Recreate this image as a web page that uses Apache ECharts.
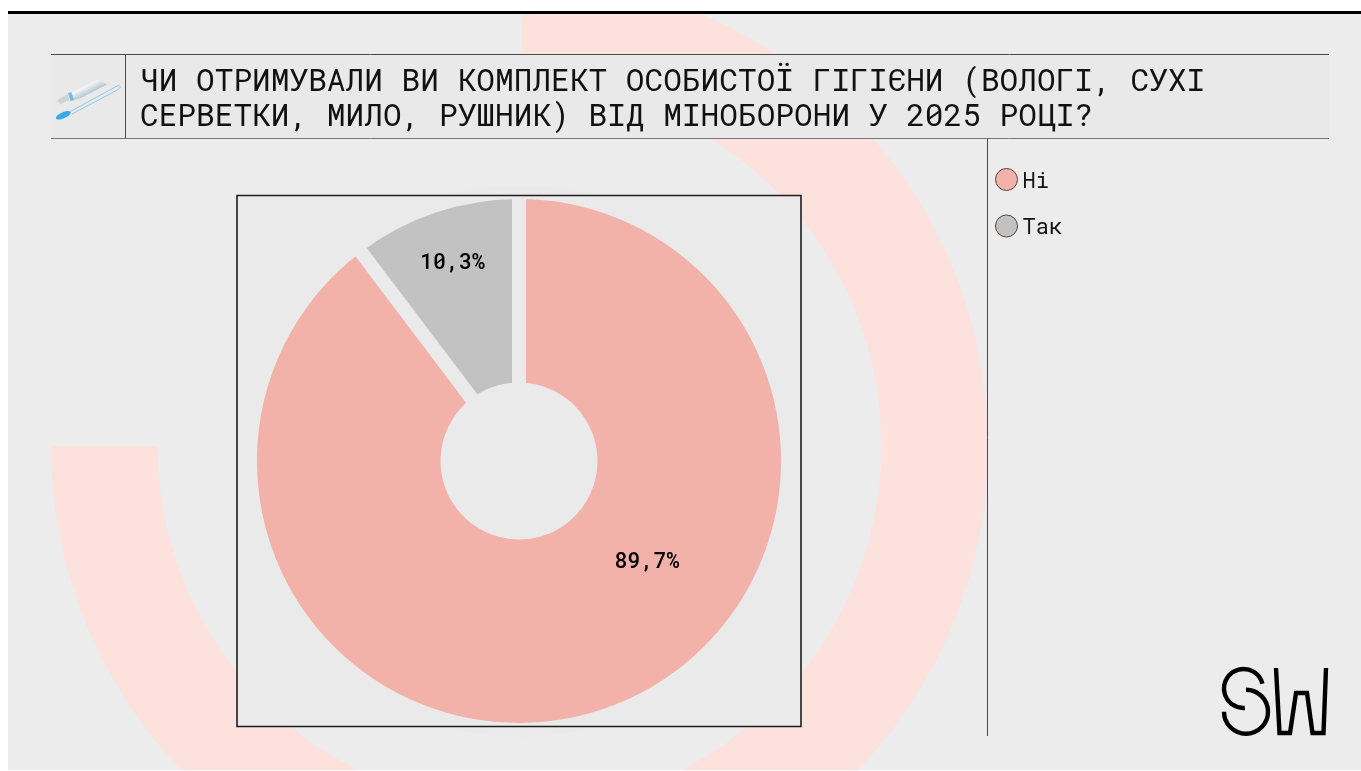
<!DOCTYPE html>
<html><head><meta charset="utf-8"><title>Chart</title>
<style>html,body{margin:0;padding:0;background:#fff;overflow:hidden}#c{width:1361px;height:771px}</style>
<script src="https://cdn.jsdelivr.net/npm/echarts@6/dist/echarts.min.js"></script></head>
<body><div id="c"></div>
<script>
const categories = ['Ні', 'Так'];
const values = [89.7, 10.3];
const sliceColors = ['#f2b1a9', '#c2c2c2'];
const titleLines = ['ЧИ ОТРИМУВАЛИ ВИ КОМПЛЕКТ ОСОБИСТОЇ ГІГІЄНИ (ВОЛОГІ, СУХІ', 'СЕРВЕТКИ, МИЛО, РУШНИК) ВІД МІНОБОРОНИ У 2025 РОЦІ?'];
const MONO = '"Roboto Mono","DejaVu Sans Mono",monospace';
const LINE = '#4a4a4a';
const labelSpots = [[647, 561.5], [452.5, 262.5]];

const chart = echarts.init(document.getElementById('c'));
const line = (x1, y1, x2, y2, color, w, z) => ({type:'line', silent:true, z:z||1, shape:{x1,y1,x2,y2}, style:{stroke:color||LINE, lineWidth:w||1}});
const rect = (x, y, width, height, fill, z) => ({type:'rect', silent:true, z:z||0, shape:{x,y,width,height}, style:{fill}});
const poly = (points, fill, z) => ({type:'polygon', silent:true, z:z||1, shape:{points}, style:{fill}});
const ipt = a => a.map(p => [50 + p[0]/3, 70 + p[1]/3]);

chart.setOption({
  animation:false,
  backgroundColor:'#ffffff',
  title:{
    text:titleLines.join('\n'), left:140, top:64, padding:0, z:6,
    textStyle:{fontFamily:MONO, fontSize:31.15, fontWeight:400, color:'#111', lineHeight:35}
  },
  legend:{
    orient:'vertical', left:990, top:163, itemWidth:22, itemHeight:22, itemGap:22, icon:'circle',
    selectedMode:false, data:categories,
    itemStyle:{borderColor:'#554444', borderWidth:1},
    formatter:name=>'{a|'+name+'}',
    textStyle:{fontFamily:MONO, fontSize:22, color:'#111', rich:{a:{fontFamily:MONO, fontSize:22, color:'#111', padding:[4,0,0,0]}}}
  },
  graphic:{elements:[
    rect(8, 11, 1353, 760, '#ececec', 0),
    {type:'sector', silent:true, z:0, z2:1, shape:{cx:519.5, cy:446, r0:362, r:468.5, startAngle:-Math.PI/2+0.006, endAngle:Math.PI, clockwise:true}, style:{fill:'#fde1dc'}},
    Object.assign(rect(0, 0, 1361, 11, '#ffffff', 0), {z2:2}),
    Object.assign(rect(8, 11, 1353, 3, '#000000', 0), {z2:3}),
    Object.assign(rect(0, 770, 1361, 1, '#ffffff', 0), {z2:2}),
    Object.assign(rect(51, 54.5, 1278, 84, '#e9e9e9', 0), {z2:4}),
    Object.assign(rect(237, 195, 564, 532, '#eaeaea', 0), {z2:4}),
    line(51, 54.5, 1329, 54.5), line(51, 138.5, 1329, 138.5, '#777'),
    line(125.5, 54.5, 125.5, 138.5), line(987.5, 138.5, 987.5, 736),
    {type:'rect', silent:true, z:5, shape:{x:237, y:195.5, width:564, height:531}, style:{fill:'none', stroke:'#1e1e1e', lineWidth:1.6}},
    // toothpaste and toothbrush icon
    {type:'polygon', silent:true, z:1, shape:{points:ipt([[62,70],[142,29],[172,43],[92,84],[68,92]])},
      style:{fill:new echarts.graphic.LinearGradient(0,0,0.3,1,[{offset:0,color:'#dde1e6'},{offset:0.55,color:'#f4f5f7'},{offset:1,color:'#9fb4c4'}])}},
    poly(ipt([[54,70],[64,66],[72,90],[62,94]]), '#6cc0ea'),
    poly(ipt([[22,90],[52,73],[58,90],[30,103]]), '#ccd5da'),
    {type:'polyline', silent:true, z:1, shape:{points:ipt([[62,124],[205,46],[212,50],[206,58],[66,132]])}, style:{fill:'none', stroke:'#8fcbea', lineWidth:1}},
    {type:'ellipse', silent:true, z:1, rotation:0.42, originX:50+40/3, originY:70+136/3, shape:{cx:50+40/3, cy:70+136/3, rx:8, ry:3}, style:{fill:'#39a9e3'}},
    // SW logo
    {type:'arc', silent:true, z:1, shape:{cx:1243.5, cy:688.5, r:19.5, startAngle:-0.25, endAngle:1.5, clockwise:false}, style:{fill:'none', stroke:'#000', lineWidth:4.4}},
    {type:'arc', silent:true, z:1, shape:{cx:1246,cy:711.7, r:22, startAngle:-Math.PI/2, endAngle:Math.PI, clockwise:true}, style:{fill:'none', stroke:'#000', lineWidth:4.4}},
    {type:'polyline', silent:true, z:1, shape:{points:[[1276,668],[1279.5,733],[1290,733],[1296,693],[1307,693],[1312.5,733],[1323.5,733],[1326,668]]}, style:{fill:'none', stroke:'#000', lineWidth:4.4, lineJoin:'miter'}}
  ]},
  series:[{
    type:'pie', center:[519,461], radius:[71.5,269], startAngle:90, clockwise:true, silent:true,
    itemStyle:{borderColor:'#eaeaea', borderWidth:14, borderJoin:'miter'},
    emphasis:{disabled:true},
    data:categories.map((name,i)=>({name, value:values[i], itemStyle:{color:sliceColors[i]}})),
    label:{show:true, position:'inside', fontFamily:MONO, fontSize:21.6, fontWeight:500, color:'#000',
      formatter:p=>String(p.value).replace('.',',')+'%'},
    labelLine:{show:false},
    labelLayout:p=>({x:labelSpots[p.dataIndex][0], y:labelSpots[p.dataIndex][1], align:'center', verticalAlign:'middle'})
  }]
});
</script></body></html>
